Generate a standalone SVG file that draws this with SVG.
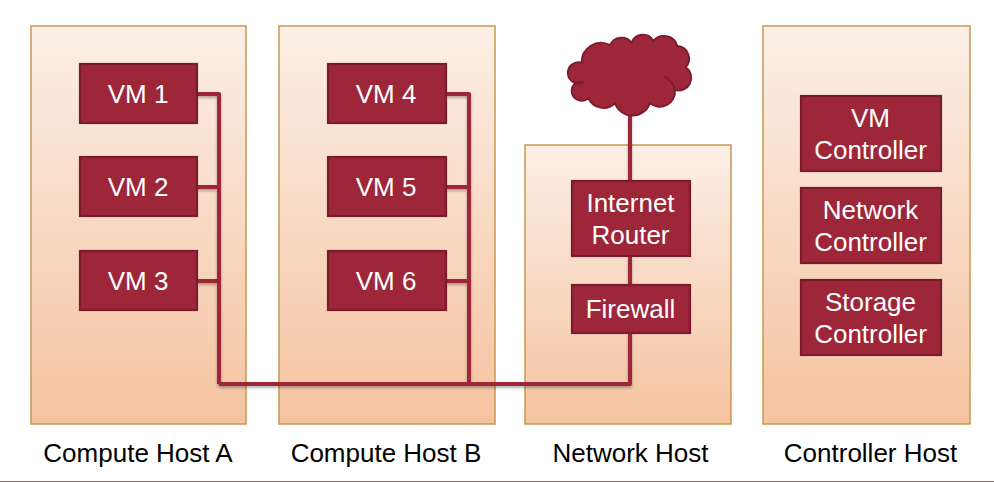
<svg xmlns="http://www.w3.org/2000/svg" width="994" height="482" viewBox="0 0 994 482">
<style>
.host{fill:url(#hostFill);stroke:#c6994f;stroke-width:1.5}
.box{fill:#9e2639;stroke:#7a1c30;stroke-width:2.2}
.t{font-family:"Liberation Sans",Arial,sans-serif;font-size:26px;text-anchor:middle}
.w{fill:#fff}
.k{fill:#000}
.c{fill:none;stroke:#9e2639;stroke-width:4;stroke-linejoin:round}
</style>
<defs>
<linearGradient id="hostFill" x1="0" y1="0" x2="0" y2="1">
<stop offset="0" stop-color="#fcefe6"/>
<stop offset="1" stop-color="#f5c3a0"/>
</linearGradient>
<filter id="sh" x="-5%" y="-5%" width="110%" height="110%">
<feDropShadow dx="0" dy="2" stdDeviation="1.5" flood-color="#000" flood-opacity="0.3"/>
</filter>
</defs>
<rect width="994" height="482" fill="#fff"/>
<g id="host-a"><rect class="host" x="31" y="26" width="215" height="398"/><text class="t k" x="138" y="462">Compute Host A</text></g>
<g id="host-b"><rect class="host" x="279" y="26" width="216" height="398"/><text class="t k" x="386" y="462">Compute Host B</text></g>
<g id="host-n"><rect class="host" x="525" y="145" width="206" height="279"/><text class="t k" x="630.500" y="462">Network Host</text></g>
<g id="host-c"><rect class="host" x="763" y="26" width="207" height="398"/><text class="t k" x="870.500" y="462">Controller Host</text></g>
<g id="connectors" filter="url(#sh)">
<path class="c" d="M197 94H219V384M197 187H219M197 281H219"/>
<path class="c" d="M446 94H469V384M446 187H469M446 281H469"/>
<path class="c" d="M219 384H630V333M630 285V256M630 181V110"/>
</g>
<g id="cloud"><path transform="translate(540 20) scale(.3333)" fill="#9e2639" stroke="#7a1c30" stroke-width="5.500" stroke-linecap="round" stroke-linejoin="round" d="M130 187A32 32 0 1 1 125 128A58 58 0 0 1 210 75A38 38 0 0 1 275 68A36 36 0 0 1 340 62A42 42 0 0 1 412 78A38 38 0 0 1 437 142A38 38 0 0 1 405 210A46 46 0 0 1 330 250A56 56 0 0 1 225 250A50 50 0 0 1 145 235A30 30 0 0 1 105 190Q115 185 130 187ZM375 170Q400 185 405 210"/></g>
<g id="vm1"><rect class="box" x="80" y="64" width="117" height="59"/><text class="t w" x="138" y="103">VM 1</text></g>
<g id="vm2"><rect class="box" x="80" y="157" width="117" height="59"/><text class="t w" x="138" y="196">VM 2</text></g>
<g id="vm3"><rect class="box" x="80" y="251" width="117" height="59"/><text class="t w" x="138" y="290">VM 3</text></g>
<g id="vm4"><rect class="box" x="328" y="64" width="118" height="59"/><text class="t w" x="386" y="103">VM 4</text></g>
<g id="vm5"><rect class="box" x="328" y="157" width="118" height="59"/><text class="t w" x="386" y="196">VM 5</text></g>
<g id="vm6"><rect class="box" x="328" y="251" width="118" height="59"/><text class="t w" x="386" y="290">VM 6</text></g>
<g id="router"><rect class="box" x="572" y="181" width="118" height="75"/><text class="t w" x="630.500" y="212">Internet</text><text class="t w" x="630.500" y="244">Router</text></g>
<g id="firewall"><rect class="box" x="572" y="285" width="118" height="48"/><text class="t w" x="630.500" y="318">Firewall</text></g>
<g id="vm-controller"><rect class="box" x="801" y="96" width="140" height="75"/><text class="t w" x="870.500" y="127">VM</text><text class="t w" x="870.500" y="159">Controller</text></g>
<g id="network-controller"><rect class="box" x="801" y="188" width="140" height="75"/><text class="t w" x="870.500" y="219">Network</text><text class="t w" x="870.500" y="251">Controller</text></g>
<g id="storage-controller"><rect class="box" x="801" y="280" width="140" height="75"/><text class="t w" x="870.500" y="311">Storage</text><text class="t w" x="870.500" y="343">Controller</text></g>
<rect x="0" y="481" width="994" height="1" fill="#b0586a"/>
</svg>
